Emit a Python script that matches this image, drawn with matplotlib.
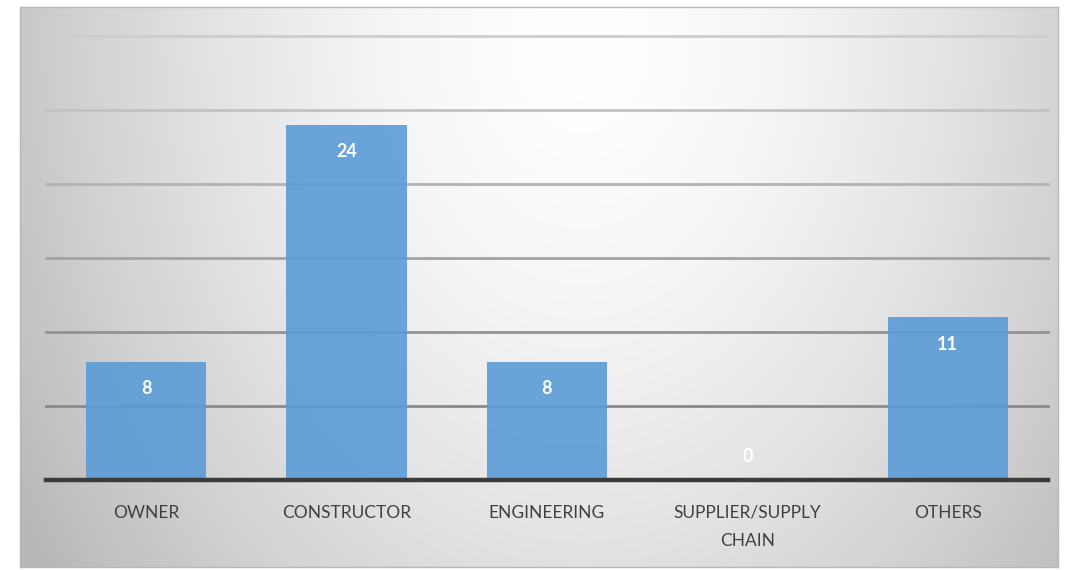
import numpy as np
import matplotlib
matplotlib.use("Agg")
import matplotlib.pyplot as plt

categories = ["OWNER", "CONSTRUCTOR", "ENGINEERING", "SUPPLIER/SUPPLY\nCHAIN", "OTHERS"]
values = [8, 24, 8, 0, 11]
gridvals = [5, 10, 15, 20, 25, 30]
grid_colors = ["#8a8a8a", "#939393", "#a3a3a3", "#b3b3b3", "#c2c2c2", "#cdcdcd"]

W, H = 1082, 570
fig = plt.figure(figsize=(W / 100, H / 100), dpi=100)
fig.patch.set_facecolor("white")

# background panel with radial gradient
fl, ft, fr, fb = 20, 7, 1058, 567
bg = fig.add_axes([fl / W, (H - fb) / H, (fr - fl) / W, (fb - ft) / H])
nx, ny = 400, 220
xx, yy = np.meshgrid(np.linspace(0, 1, nx), np.linspace(0, 1, ny))
cx, cy = 0.54, 0.05
d = np.sqrt(((xx - cx) / 0.55) ** 2 + ((yy - cy) / 1.4) ** 2)
shade = 1.0 - 0.22 * np.clip(d, 0, 1.15) ** 1.6
img = np.dstack([shade, shade, shade])
bg.imshow(img, aspect="auto", extent=[0, 1, 0, 1], origin="upper", vmin=0, vmax=1)
bg.set_xticks([]); bg.set_yticks([])
for s in bg.spines.values():
    s.set_color("#b8b8b8")
    s.set_linewidth(1.0)

# main plot axes
pl, pr, pt, pb = 46, 1048, 36, 480
ax = fig.add_axes([pl / W, (H - pb) / H, (pr - pl) / W, (pb - pt) / H])
ax.set_facecolor("none")
ax.set_xlim(-0.5, len(categories) - 0.5)
ax.set_ylim(0, 30)

for gv, gc in zip(gridvals, grid_colors):
    ax.axhline(gv, color=gc, linewidth=2.0, zorder=1, clip_on=False)

x = np.arange(len(categories))
ax.bar(x, values, width=0.6, color="#5b9bd5", alpha=0.9, zorder=2)
ax.axhline(0, color="#3b3b3b", linewidth=3.2, zorder=3, clip_on=False)

for xi, v in zip(x, values):
    off = -27 if v > 0 else 24
    ax.annotate(str(v), (xi, v), xytext=(0, off), textcoords="offset pixels",
                ha="center", va="center", color="white", fontsize=13,
                fontweight="bold", family="Lato", zorder=4)

ax.set_xticks(x)
ax.set_xticklabels(categories, fontsize=12.5, color="#404040", family="Lato",
                   linespacing=1.9, va="top")
ax.tick_params(axis="x", length=0, pad=18)
ax.set_yticks([])
for s in ax.spines.values():
    s.set_visible(False)

fig.savefig("out.png", dpi=100)
